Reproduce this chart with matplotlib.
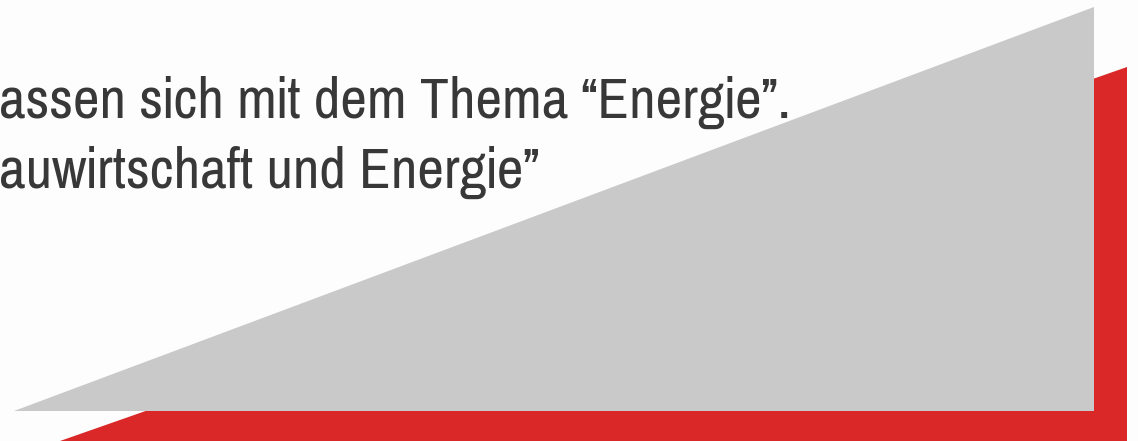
#!/usr/bin/env python3
"""
Slide fragment: two overlapping wedges (red behind grey) with cut-off German text.
"""

import matplotlib.pyplot as plt
from matplotlib.patches import Polygon
from matplotlib import font_manager

# ── Canvas (pixels) ───────────────────────────────────────────────────
W, H = 1138, 441
DPI = 100

# ── Shapes: vertex lists in pixel coords (y down) ─────────────────────
red_x = [60, 1127, 1127, 40]
red_y = [441, 67, 445, 445]
grey_x = [14, 1094, 1094]
grey_y = [411, 7, 411]

# ── Text lines ────────────────────────────────────────────────────────
lines = ['assen sich mit dem Thema \u201cEnergie\u201d.',
         'auwirtschaft und Energie\u201d']
line_x = [-1, -1]
line_y = [118, 188]

RED = '#DA2828'
GREY = '#C9C9C9'
TEXT = '#383838'

# narrow Helvetica-like face, whatever is around
names = {f.name for f in font_manager.fontManager.ttflist}
family, size = 'Liberation Sans', 35
for fam, sz in [('Pragati Narrow', 45.5), ('Archivo Narrow', 41.3)]:
    if fam in names:
        family, size = fam, sz
        break

fig = plt.figure(figsize=(W / DPI, H / DPI), dpi=DPI)
fig.patch.set_facecolor('#FDFDFD')
ax = fig.add_axes([0, 0, 1, 1])
ax.set_xlim(0, W)
ax.set_ylim(H, 0)
ax.axis('off')

for s, x, y in zip(lines, line_x, line_y):
    ax.text(x, y, s, ha='left', va='baseline', fontsize=size, family=family,
            color=TEXT, zorder=1)

ax.add_patch(Polygon(list(zip(red_x, red_y)), closed=True,
                     facecolor=RED, edgecolor='none', zorder=2))
ax.add_patch(Polygon(list(zip(grey_x, grey_y)), closed=True,
                     facecolor=GREY, edgecolor='none', zorder=3))

fig.savefig('out.png', dpi=DPI, facecolor=fig.get_facecolor())
plt.close(fig)
